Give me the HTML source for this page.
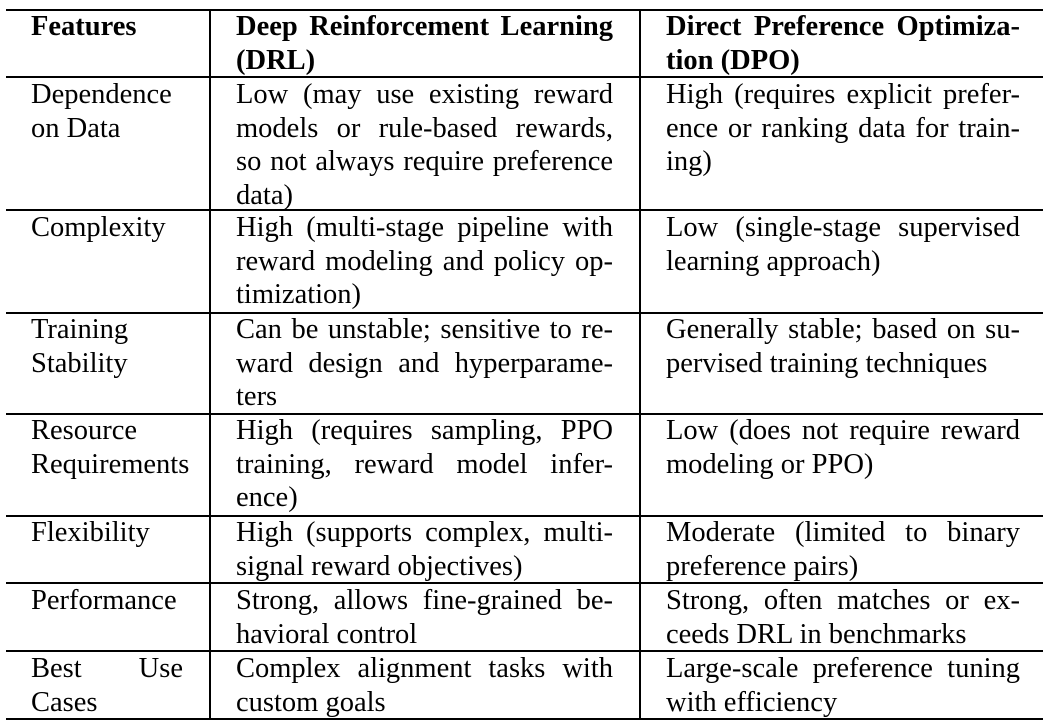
<!DOCTYPE html>
<html><head><meta charset="utf-8"><style>
body{margin:0;width:1049px;height:727px;background:#fff;position:relative;overflow:hidden;font-family:"Liberation Serif",serif;font-size:28.5px;color:#000}
.h{position:absolute;left:6px;width:1037px;height:2px;background:#000}
.v{position:absolute;width:2px;background:#000;top:9px;height:711px}
.c{position:absolute;line-height:33.7px}
.c div{white-space:nowrap}
.j{text-align:justify;text-align-last:justify;white-space:normal!important}
.b{font-weight:bold}
.c1{left:31px;width:152px}.c2{left:236px;width:377px}.c3{left:666px;width:354px}
</style></head><body>
<div class="h" style="top:9px"></div>
<div class="h" style="top:76px"></div>
<div class="h" style="top:209px"></div>
<div class="h" style="top:312px"></div>
<div class="h" style="top:413px"></div>
<div class="h" style="top:515px"></div>
<div class="h" style="top:582px"></div>
<div class="h" style="top:650px"></div>
<div class="h" style="top:718px"></div>
<div class="v" style="left:209px"></div>
<div class="v" style="left:639px"></div>

<div class="c c1 b" style="top:10px"><div>Features</div></div>
<div class="c c2 b" style="top:10px"><div class="j">Deep Reinforcement Learning</div><div>(DRL)</div></div>
<div class="c c3 b" style="top:10px"><div class="j">Direct Preference Optimiza-</div><div>tion (DPO)</div></div>

<div class="c c1" style="top:78px"><div>Dependence</div><div>on Data</div></div>
<div class="c c2" style="top:78px"><div class="j">Low (may use existing reward</div><div class="j">models or rule-based rewards,</div><div class="j">so not always require preference</div><div>data)</div></div>
<div class="c c3" style="top:78px"><div class="j">High (requires explicit prefer-</div><div class="j">ence or ranking data for train-</div><div>ing)</div></div>

<div class="c c1" style="top:211px"><div>Complexity</div></div>
<div class="c c2" style="top:211px"><div class="j">High (multi-stage pipeline with</div><div class="j">reward modeling and policy op-</div><div>timization)</div></div>
<div class="c c3" style="top:211px"><div class="j">Low (single-stage supervised</div><div>learning approach)</div></div>

<div class="c c1" style="top:313px"><div>Training</div><div>Stability</div></div>
<div class="c c2" style="top:313px"><div class="j">Can be unstable; sensitive to re-</div><div class="j">ward design and hyperparame-</div><div>ters</div></div>
<div class="c c3" style="top:313px"><div class="j">Generally stable; based on su-</div><div>pervised training techniques</div></div>

<div class="c c1" style="top:414px"><div>Resource</div><div>Requirements</div></div>
<div class="c c2" style="top:414px"><div class="j">High (requires sampling, PPO</div><div class="j">training, reward model infer-</div><div>ence)</div></div>
<div class="c c3" style="top:414px"><div class="j">Low (does not require reward</div><div>modeling or PPO)</div></div>

<div class="c c1" style="top:516px"><div>Flexibility</div></div>
<div class="c c2" style="top:516px"><div class="j">High (supports complex, multi-</div><div>signal reward objectives)</div></div>
<div class="c c3" style="top:516px"><div class="j">Moderate (limited to binary</div><div>preference pairs)</div></div>

<div class="c c1" style="top:584px"><div>Performance</div></div>
<div class="c c2" style="top:584px"><div class="j">Strong, allows fine-grained be-</div><div>havioral control</div></div>
<div class="c c3" style="top:584px"><div class="j">Strong, often matches or ex-</div><div>ceeds DRL in benchmarks</div></div>

<div class="c c1" style="top:652px"><div class="j">Best Use</div><div>Cases</div></div>
<div class="c c2" style="top:652px"><div class="j">Complex alignment tasks with</div><div>custom goals</div></div>
<div class="c c3" style="top:652px"><div class="j">Large-scale preference tuning</div><div>with efficiency</div></div>
</body></html>
